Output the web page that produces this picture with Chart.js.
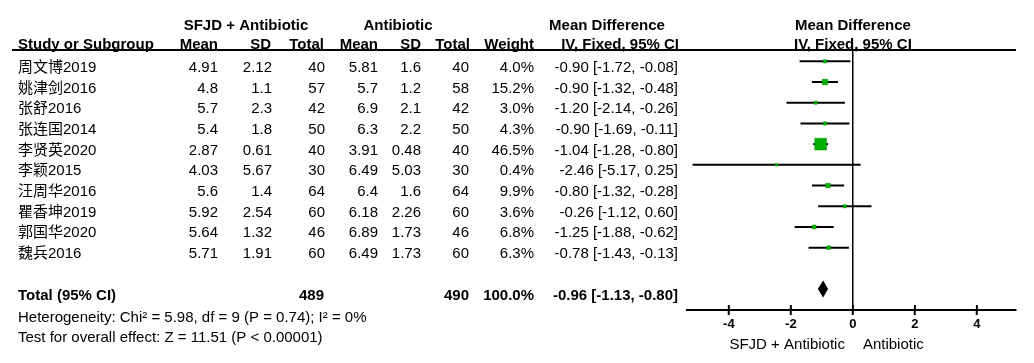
<!DOCTYPE html>
<html>
<head>
<meta charset="utf-8">
<title>Forest plot</title>
<script src="https://cdn.jsdelivr.net/npm/chart.js@4.4.0/dist/chart.umd.min.js"></script>
<style>
    html, body { margin: 0; padding: 0; background: #fff; }
    #forestContainer { width: 1034px; height: 363px; }
</style>
</head>
<body>
<div id="forestContainer"><canvas id="forestChart" width="1034" height="363"></canvas></div>
<script>
// 各研究数据
const studies = ['周文博2019', '姚津剑2016', '张舒2016', '张连国2014', '李贤英2020', '李颖2015', '汪周华2016', '瞿香坤2019', '郭国华2020', '魏兵2016'];
const expMean = [4.91, 4.8, 5.7, 5.4, 2.87, 4.03, 5.6, 5.92, 5.64, 5.71];
const expSD = [2.12, 1.1, 2.3, 1.8, 0.61, 5.67, 1.4, 2.54, 1.32, 1.91];
const expTotal = [40, 57, 42, 50, 40, 30, 64, 60, 46, 60];
const ctlMean = [5.81, 5.7, 6.9, 6.3, 3.91, 6.49, 6.4, 6.18, 6.89, 6.49];
const ctlSD = [1.6, 1.2, 2.1, 2.2, 0.48, 5.03, 1.6, 2.26, 1.73, 1.73];
const ctlTotal = [40, 58, 42, 50, 40, 30, 64, 60, 46, 60];
const weights = [4.0, 15.2, 3.0, 4.3, 46.5, 0.4, 9.9, 3.6, 6.8, 6.3];
const meanDiff = [-0.90, -0.90, -1.20, -0.90, -1.04, -2.46, -0.80, -0.26, -1.25, -0.78];
const ciLow = [-1.72, -1.32, -2.14, -1.69, -1.28, -5.17, -1.32, -1.12, -1.88, -1.43];
const ciHigh = [-0.08, -0.48, -0.26, -0.11, -0.80, 0.25, -0.28, 0.60, -0.62, -0.13];

// 合并结果
const totalN = [489, 490];
const totalWeight = 100.0;
const totalMD = -0.96;
const totalCI = [-1.13, -0.80];
const heterogeneityText = 'Heterogeneity: Chi² = 5.98, df = 9 (P = 0.74); I² = 0%';
const overallEffectText = 'Test for overall effect: Z = 11.51 (P < 0.00001)';

// 坐标轴
const tickValues = [-4, -2, 0, 2, 4];
const tickLabels = ['-4', '-2', '0', '2', '4'];
const favoursLabels = ['SFJD + Antibiotic', 'Antibiotic'];

const FONT = '"Liberation Sans", Arial, "Noto Sans CJK SC", sans-serif';
const TOTAL_ROW = 11;

const fmtCI = (m, lo, hi) => `${m.toFixed(2)} [${lo.toFixed(2)}, ${hi.toFixed(2)}]`;

const forestTable = {
    id: 'forestTable',
    afterDraw(chart) {
        const ctx = chart.ctx;
        const xs = chart.scales.x;
        const ys = chart.scales.y;
        const area = chart.chartArea;
        const zeroX = xs.getPixelForValue(0);

        const put = (text, px, py, align, bold) => {
            ctx.font = (bold ? 'bold ' : '') + '15px ' + FONT;
            ctx.textAlign = align;
            ctx.fillText(text, px, py);
        };

        ctx.save();
        ctx.fillStyle = '#000';
        ctx.strokeStyle = '#000';
        ctx.textBaseline = 'alphabetic';

        // header
        put('SFJD + Antibiotic', 246, 29.5, 'center', true);
        put('Antibiotic', 398, 29.5, 'center', true);
        put('Mean Difference', 607, 29.5, 'center', true);
        put('Mean Difference', zeroX, 29.5, 'center', true);
        put('Study or Subgroup', 18, 49, 'left', true);
        put('Mean', 218, 49, 'right', true);
        put('SD', 271, 49, 'right', true);
        put('Total', 324, 49, 'right', true);
        put('Mean', 378, 49, 'right', true);
        put('SD', 421, 49, 'right', true);
        put('Total', 470, 49, 'right', true);
        put('Weight', 534, 49, 'right', true);
        put('IV, Fixed, 95% CI', 679, 49, 'right', true);
        put('IV, Fixed, 95% CI', zeroX, 49, 'center', true);

        ctx.lineWidth = 2;
        ctx.beginPath();
        ctx.moveTo(12, area.top);
        ctx.lineTo(area.right, area.top);
        ctx.stroke();

        // study rows
        studies.forEach((name, i) => {
            const py = ys.getPixelForValue(i) + 10.5;
            put(name, 18, py, 'left', false);
            put(String(expMean[i]), 218, py, 'right', false);
            put(String(expSD[i]), 272, py, 'right', false);
            put(String(expTotal[i]), 325, py, 'right', false);
            put(String(ctlMean[i]), 378, py, 'right', false);
            put(String(ctlSD[i]), 421, py, 'right', false);
            put(String(ctlTotal[i]), 469, py, 'right', false);
            put(weights[i].toFixed(1) + '%', 534, py, 'right', false);
            put(fmtCI(meanDiff[i], ciLow[i], ciHigh[i]), 678, py, 'right', false);
        });

        // total row
        const ty = ys.getPixelForValue(TOTAL_ROW) + 10.5;
        put('Total (95% CI)', 18, ty, 'left', true);
        put(String(totalN[0]), 324, ty, 'right', true);
        put(String(totalN[1]), 469, ty, 'right', true);
        put(totalWeight.toFixed(1) + '%', 534, ty, 'right', true);
        put(fmtCI(totalMD, totalCI[0], totalCI[1]), 678, ty, 'right', true);
        put(heterogeneityText, 18, 322, 'left', false);
        put(overallEffectText, 18, 342, 'left', false);

        // diamond
        const dx = [totalCI[0], totalMD, totalCI[1], totalMD].map(v => xs.getPixelForValue(v));
        const dyc = ys.getPixelForValue(TOTAL_ROW);
        ctx.beginPath();
        ctx.moveTo(dx[0], dyc);
        ctx.lineTo(dx[1], dyc - 8.5);
        ctx.lineTo(dx[2], dyc);
        ctx.lineTo(dx[3], dyc + 8.5);
        ctx.closePath();
        ctx.fill();

        // upper half of the tick marks
        ctx.lineWidth = 2;
        xs.ticks.forEach(t => {
            const px = xs.getPixelForValue(t.value);
            ctx.beginPath();
            ctx.moveTo(px, area.bottom);
            ctx.lineTo(px, area.bottom - 5);
            ctx.stroke();
        });

        // favours labels
        put(favoursLabels[0], zeroX - 8, 348.5, 'right', false);
        put(favoursLabels[1], zeroX + 10, 348.5, 'left', false);

        ctx.restore();
    }
};

class ForestPlotView {
    constructor() {
        this.canvas = document.getElementById('forestChart');
        this.render();
    }

    buildDatasets() {
        const ciLines = studies.map((name, i) => ({
            label: name,
            data: [{ x: ciLow[i], y: i }, { x: ciHigh[i], y: i }],
            showLine: true,
            borderColor: '#000',
            borderWidth: 2,
            pointRadius: 0,
            order: 2
        }));

        const markers = {
            label: 'Mean Difference',
            data: meanDiff.map((v, i) => ({ x: v, y: i })),
            pointStyle: 'rect',
            pointRadius: weights.map(w => (2.5 + 0.2 * w) / Math.SQRT2),
            backgroundColor: '#00b000',
            borderColor: '#009000',
            borderWidth: 0.5,
            order: 0
        };

        return [markers, ...ciLines];
    }

    render() {
        this.chart = new Chart(this.canvas, {
            type: 'scatter',
            data: { datasets: this.buildDatasets() },
            plugins: [forestTable],
            options: {
                responsive: false,
                animation: false,
                layout: { padding: { left: 687, right: 18, top: 50, bottom: 0 } },
                plugins: {
                    legend: { display: false },
                    tooltip: { enabled: false }
                },
                scales: {
                    x: {
                        type: 'linear',
                        min: -5.35,
                        max: 5.26,
                        afterBuildTicks: s => { s.ticks = tickValues.map(v => ({ value: v })); },
                        afterFit: s => { s.height = 53; },
                        border: { display: true, color: '#000', width: 2 },
                        grid: {
                            color: c => (c.tick && c.tick.value === 0 ? '#000' : 'rgba(0,0,0,0)'),
                            lineWidth: 1.5,
                            tickColor: '#000',
                            tickWidth: 2,
                            tickLength: 5
                        },
                        ticks: {
                            color: '#000',
                            padding: 2,
                            font: { family: FONT, size: 13, weight: 'bold' },
                            callback: (v, idx) => tickLabels[idx]
                        }
                    },
                    y: {
                        type: 'linear',
                        display: false,
                        reverse: true,
                        min: -0.546,
                        max: 12.01
                    }
                }
            }
        });
    }
}

document.addEventListener('DOMContentLoaded', () => {
    window.forestPlotView = new ForestPlotView();
});
</script>
</body>
</html>
